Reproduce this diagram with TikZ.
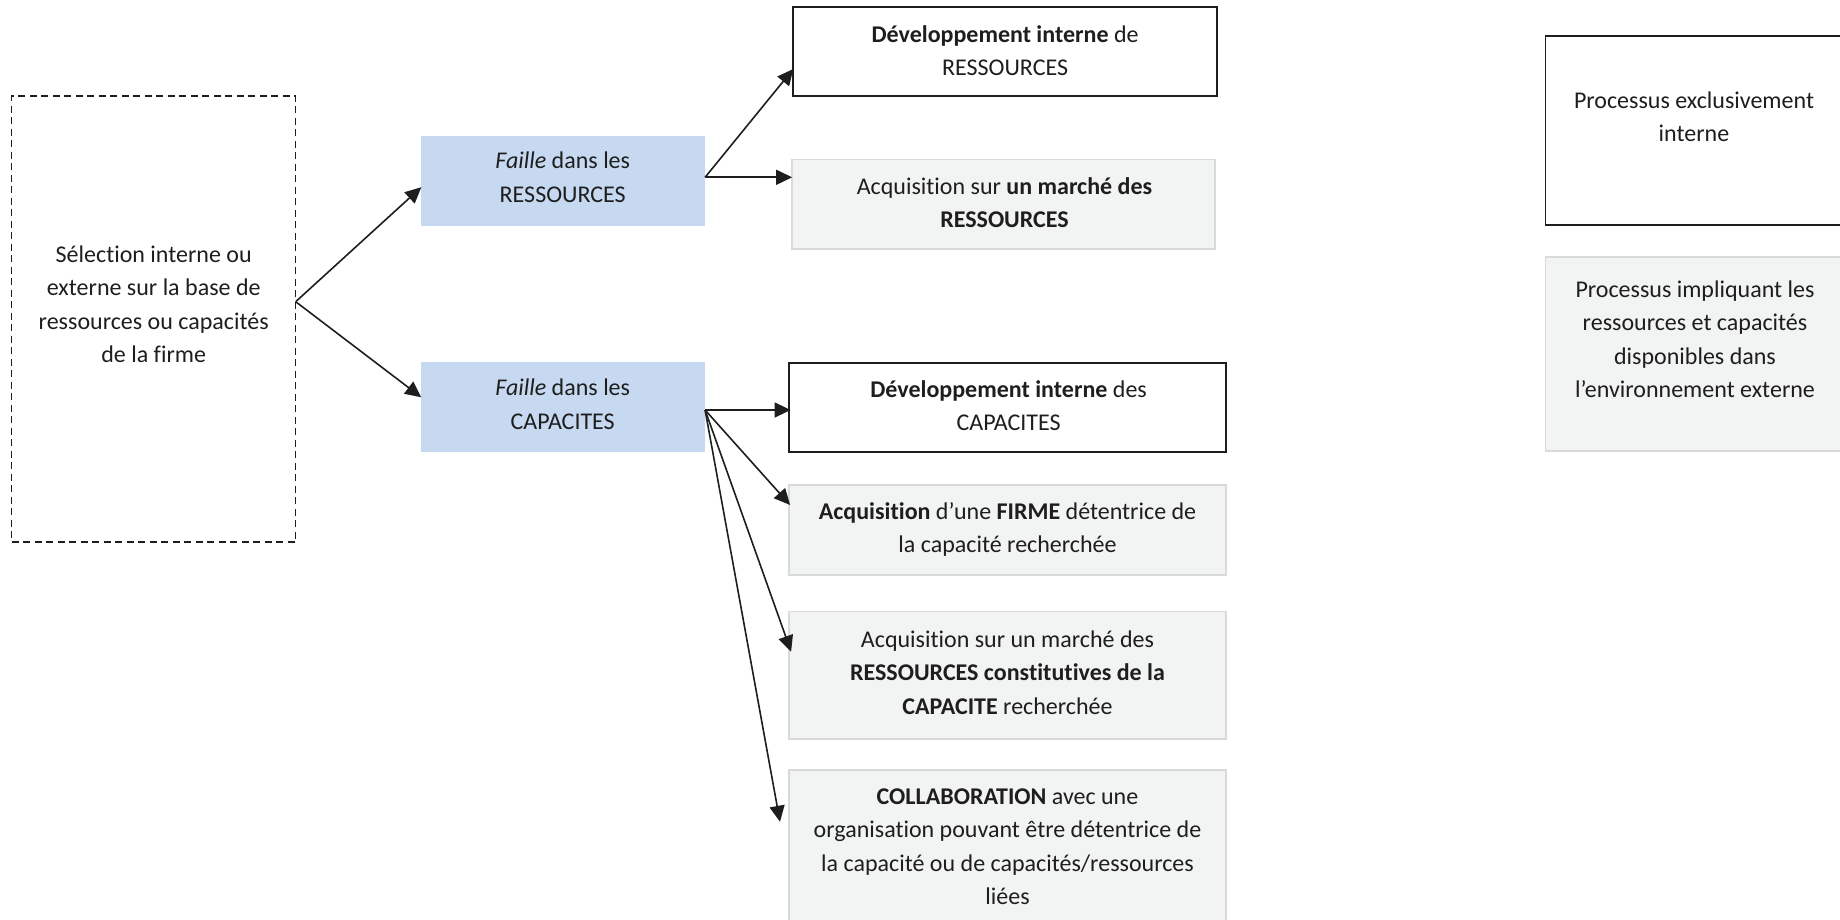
\documentclass[tikz,border=0pt]{standalone}
\usepackage{fontspec}
\setmainfont{Carlito}[Ligatures=NoCommon]
\usetikzlibrary{arrows.meta,calc}
\definecolor{bluefill}{HTML}{C6D9F1}
\definecolor{grayfill}{HTML}{F2F3F3}
\definecolor{grayline}{HTML}{D9DADA}
\definecolor{ink}{HTML}{1E1E1E}
\tikzset{
  box/.style={rectangle, inner sep=0pt, outer sep=0pt, anchor=north west},
  whitebox/.style={box, draw=ink, line width=1.8pt, fill=white},
  graybox/.style={box, draw=grayline, line width=1.8pt, fill=grayfill},
  bluebox/.style={box, fill=bluefill},
  dashbox/.style={box, draw=ink, line width=1.5pt, dash pattern=on 7pt off 4.5pt},
  txt/.style={align=center, font=\fontsize{24}{33.4}\selectfont, text=ink, inner sep=0pt},
  arr/.style={draw=ink, line width=1.6pt, -{Triangle[length=16pt,width=15pt]}}
}
\begin{document}
\begin{tikzpicture}[x=1pt,y=-1pt]
\useasboundingbox (0,0) rectangle (1840,920);

% boxes
\node[dashbox, minimum width=284pt, minimum height=446pt] (sel) at (11.7,96.2) {};
\node[bluebox, minimum width=283.8pt, minimum height=89.6pt] (b1) at (421.3,136.1) {};
\node[bluebox, minimum width=283.8pt, minimum height=89.6pt] (b2) at (421.3,362.0) {};
\node[whitebox, minimum width=423.6pt, minimum height=89.2pt] (d1) at (793.3,7.0) {};
\node[graybox, minimum width=422.5pt, minimum height=89.2pt] (m1) at (792.1,159.6) {};
\node[whitebox, minimum width=437.7pt, minimum height=89.2pt] (d2) at (788.6,362.6) {};
\node[graybox, minimum width=437.7pt, minimum height=90.3pt] (f1) at (788.6,484.7) {};
\node[graybox, minimum width=437.7pt, minimum height=127.9pt] (r1) at (788.6,611.4) {};
\node[graybox, minimum width=437.7pt, minimum height=160pt] (c1) at (788.6,769.8) {};
\node[whitebox, minimum width=320pt, minimum height=188.9pt] (l1) at (1545.5,36.4) {};
\node[graybox, minimum width=320pt, minimum height=193.6pt] (l2) at (1545.5,257) {};

% texts
\node[txt] (tsel) at (153.7,304.2) {Sélection interne ou\\externe sur la base de\\ressources ou capacités\\de la firme};
\node[txt] (tb1) at (562.7,177.2) {\textit{Faille} dans les\\RESSOURCES};
\node[txt] (tb2) at (562.7,404.3) {\textit{Faille} dans les\\CAPACITES};
\node[txt] (td1) at (1005.1,50.5) {\textbf{Développement interne} de\\RESSOURCES};
\node[txt] (tm1) at (1004.5,202.4) {Acquisition sur \textbf{un marché des}\\\textbf{RESSOURCES}};
\node[txt] (td2) at (1008.6,405.4) {\textbf{Développement interne} des\\CAPACITES};
\node[txt] (tf1) at (1007.5,529.2) {\textbf{Acquisition} d’une \textbf{FIRME} détentrice de\\la capacité recherchée};
\node[txt] (tr1) at (1007.5,672.4) {Acquisition sur un marché des\\\textbf{RESSOURCES constitutives de la}\\\textbf{CAPACITE} recherchée};
\node[txt] (tc1) at (1007.5,846.7) {\textbf{COLLABORATION} avec une\\organisation pouvant être détentrice de\\la capacité ou de capacités/ressources\\liées};
\node[txt] (tl1) at (1694,116.8) {Processus exclusivement\\interne};
\node[txt] (tl2) at (1695,339.1) {Processus impliquant les\\ressources et capacités\\disponibles dans\\l’environnement externe};

% connectors
\coordinate (s0) at ($(sel.north east)+(0,205.5)$);
\coordinate (r0) at ($(b1.north east)+(0,41.2)$);
\coordinate (c0) at ($(b2.north east)+(0,48)$);
\draw[arr] (s0) -- ($(b1.north west)+(0,51.1)$);
\draw[arr] (s0) -- ($(b2.north west)+(0,35.3)$);
\draw[arr] (r0) -- ($(d1.north west)+(0,62)$);
\draw[arr] (r0) -- ($(m1.north west)+(0,17.7)$);
\draw[arr] (c0) -- ($(d2.north west)+(2,47.4)$);
\draw[arr] (c0) -- ($(f1.north west)+(1.5,20.3)$);
\draw[arr] (c0) -- ($(r1.north west)+(2.5,40.3)$);
\draw[arr] (c0) -- ($(c1.north west)+(-8.6,52)$);
\end{tikzpicture}
\end{document}
